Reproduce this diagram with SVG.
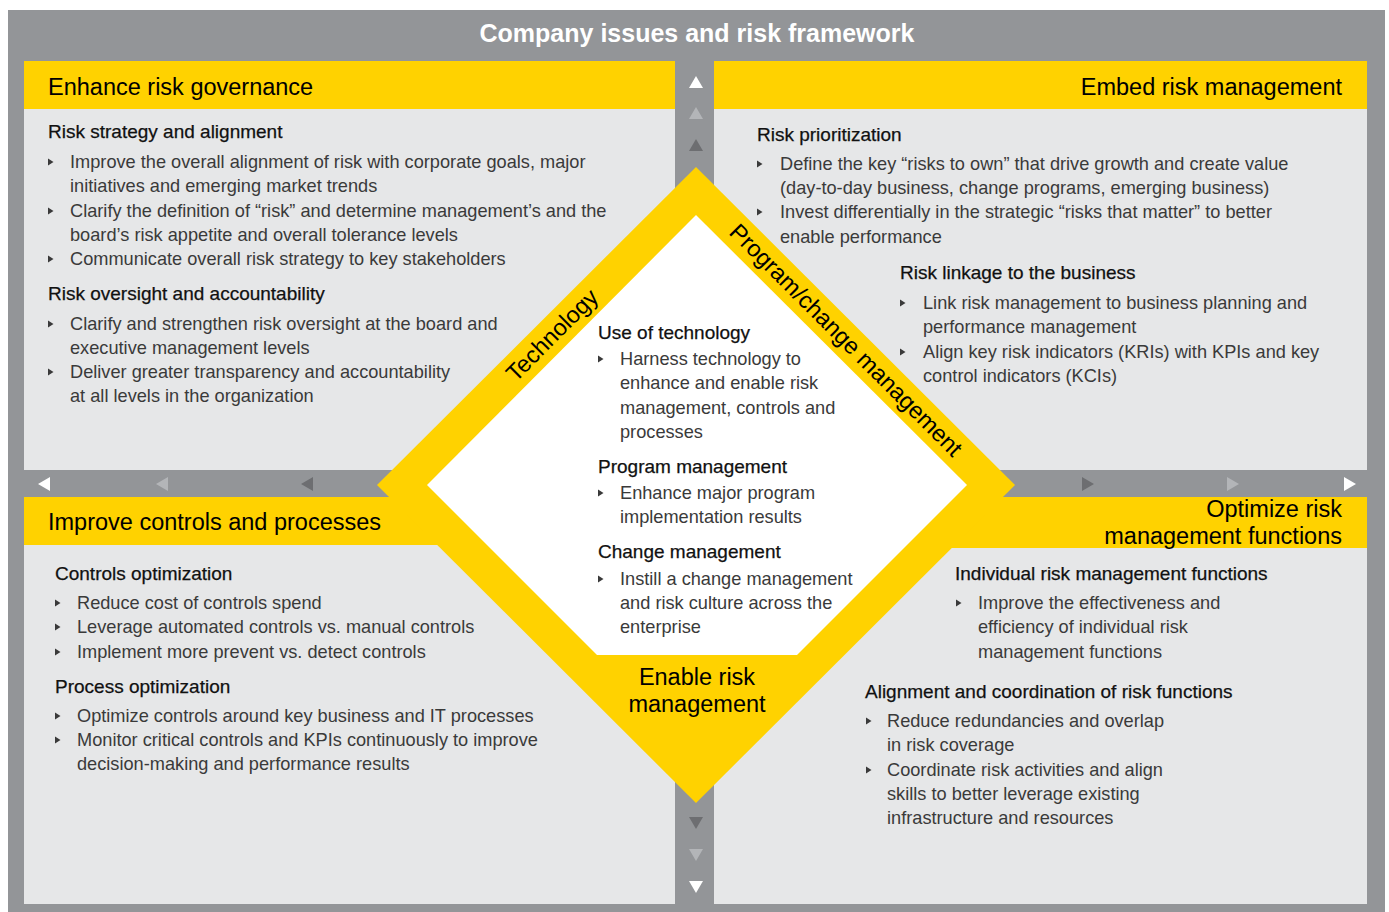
<svg xmlns="http://www.w3.org/2000/svg" xmlns:xlink="http://www.w3.org/1999/xlink" width="1389" height="912" viewBox="0 0 1389 912">
<style>
.bg{fill:#939598}
.q{fill:#e6e7e8}
.y{fill:#ffd200}
.hd{font-family:"Liberation Sans",Arial,sans-serif;font-size:23.5px;fill:#000}
.sh{font-family:"Liberation Sans",Arial,sans-serif;font-size:19px;fill:#111;stroke:#111;stroke-width:0.25px}
.bd{font-family:"Liberation Sans",Arial,sans-serif;font-size:18.2px;fill:#3a3a3a}
.ttl{font-family:"Liberation Sans",Arial,sans-serif;font-size:25px;font-weight:bold;fill:#fff}
.tw{fill:#fff}.tl{fill:#b3b5b8}.td{fill:#6d6e71}
</style>
<defs>
<path id="bl" d="M0,-3.5L5.5,0L0,3.5Z" fill="#3a3a3a"/>
<path id="up" d="M-7,6L0,-6L7,6Z"/>
<path id="dn" d="M-7,-6L0,6L7,-6Z"/>
<path id="lf" d="M6,-7L-6,0L6,7Z"/>
<path id="rt" d="M-6,-7L6,0L-6,7Z"/>
</defs>
<rect class="bg" x="8" y="10" width="1377" height="902"/>
<text class="ttl" x="697" y="42" text-anchor="middle">Company issues and risk framework</text>

<g id="q-governance">
<rect class="q" x="24" y="61" width="651" height="409"/>
<rect class="y" x="24" y="61" width="651" height="48"/>
<text class="hd" x="48" y="95">Enhance risk governance</text>
<text class="sh" x="48" y="138">Risk strategy and alignment</text>
<use href="#bl" x="48" y="162"/><use href="#bl" x="48" y="211"/><use href="#bl" x="48" y="259"/>
<text class="bd"><tspan x="70" y="168">Improve the overall alignment of risk with corporate goals, major</tspan><tspan x="70" y="192">initiatives and emerging market trends</tspan><tspan x="70" y="217">Clarify the definition of “risk” and determine management’s and the</tspan><tspan x="70" y="241">board’s risk appetite and overall tolerance levels</tspan><tspan x="70" y="265">Communicate overall risk strategy to key stakeholders</tspan></text>
<text class="sh" x="48" y="300">Risk oversight and accountability</text>
<use href="#bl" x="48" y="324"/><use href="#bl" x="48" y="372"/>
<text class="bd"><tspan x="70" y="330">Clarify and strengthen risk oversight at the board and</tspan><tspan x="70" y="354">executive management levels</tspan><tspan x="70" y="378">Deliver greater transparency and accountability</tspan><tspan x="70" y="402">at all levels in the organization</tspan></text>
</g>

<g id="q-embed">
<rect class="q" x="714" y="61" width="653" height="409"/>
<rect class="y" x="714" y="61" width="653" height="48"/>
<text class="hd" x="1342" y="95" text-anchor="end">Embed risk management</text>
<text class="sh" x="757" y="141">Risk prioritization</text>
<use href="#bl" x="757" y="164"/><use href="#bl" x="757" y="212"/>
<text class="bd"><tspan x="780" y="170">Define the key “risks to own” that drive growth and create value</tspan><tspan x="780" y="194">(day-to-day business, change programs, emerging business)</tspan><tspan x="780" y="218">Invest differentially in the strategic “risks that matter” to better</tspan><tspan x="780" y="243">enable performance</tspan></text>
<text class="sh" x="900" y="279">Risk linkage to the business</text>
<use href="#bl" x="900" y="303"/><use href="#bl" x="900" y="352"/>
<text class="bd"><tspan x="923" y="309">Link risk management to business planning and</tspan><tspan x="923" y="333">performance management</tspan><tspan x="923" y="358">Align key risk indicators (KRIs) with KPIs and key</tspan><tspan x="923" y="382">control indicators (KCIs)</tspan></text>
</g>

<g id="q-controls">
<rect class="q" x="24" y="497" width="651" height="407"/>
<rect class="y" x="24" y="497" width="651" height="48"/>
<text class="hd" x="48" y="530">Improve controls and processes</text>
<text class="sh" x="55" y="580">Controls optimization</text>
<use href="#bl" x="55" y="603"/><use href="#bl" x="55" y="627"/><use href="#bl" x="55" y="652"/>
<text class="bd"><tspan x="77" y="609">Reduce cost of controls spend</tspan><tspan x="77" y="633">Leverage automated controls vs. manual controls</tspan><tspan x="77" y="658">Implement more prevent vs. detect controls</tspan></text>
<text class="sh" x="55" y="693">Process optimization</text>
<use href="#bl" x="55" y="716"/><use href="#bl" x="55" y="740"/>
<text class="bd"><tspan x="77" y="722">Optimize controls around key business and IT processes</tspan><tspan x="77" y="746">Monitor critical controls and KPIs continuously to improve</tspan><tspan x="77" y="770">decision-making and performance results</tspan></text>
</g>

<g id="q-optimize">
<rect class="q" x="714" y="497" width="653" height="407"/>
<rect class="y" x="714" y="497" width="653" height="51"/>
<text class="hd"><tspan x="1342" y="517" text-anchor="end">Optimize risk</tspan><tspan x="1342" y="544" text-anchor="end">management functions</tspan></text>
<text class="sh" x="955" y="580">Individual risk management functions</text>
<use href="#bl" x="956" y="603"/>
<text class="bd"><tspan x="978" y="609">Improve the effectiveness and</tspan><tspan x="978" y="633">efficiency of individual risk</tspan><tspan x="978" y="658">management functions</tspan></text>
<text class="sh" x="865" y="698">Alignment and coordination of risk functions</text>
<use href="#bl" x="866" y="721"/><use href="#bl" x="866" y="770"/>
<text class="bd"><tspan x="887" y="727">Reduce redundancies and overlap</tspan><tspan x="887" y="751">in risk coverage</tspan><tspan x="887" y="776">Coordinate risk activities and align</tspan><tspan x="887" y="800">skills to better leverage existing</tspan><tspan x="887" y="824">infrastructure and resources</tspan></text>
</g>

<g id="connectors">
<use href="#up" class="tw" x="696" y="82"/>
<use href="#up" class="tl" x="696" y="113"/>
<use href="#up" class="td" x="696" y="145"/>
<use href="#dn" class="td" x="696" y="823"/>
<use href="#dn" class="tl" x="696" y="855"/>
<use href="#dn" class="tw" x="696" y="887"/>
<use href="#lf" class="tw" x="44" y="484"/>
<use href="#lf" class="tl" x="162" y="484"/>
<use href="#lf" class="td" x="307" y="484"/>
<use href="#rt" class="td" x="1088" y="484"/>
<use href="#rt" class="tl" x="1233" y="484"/>
<use href="#rt" class="tw" x="1350" y="484"/>
</g>

<g id="diamond">
<polygon class="y" points="696,167 1015,485 696,803 377,485"/>
<polygon fill="#fff" points="696,215 967,485 797,655 597,655 427,485"/>
<text class="hd" transform="translate(552,335) rotate(-45)" x="0" y="8" text-anchor="middle">Technology</text>
<text class="hd" transform="translate(846,340) rotate(45)" x="0" y="8" text-anchor="middle">Program/change management</text>
<text class="sh" x="598" y="339">Use of technology</text>
<use href="#bl" x="598" y="359"/>
<text class="bd"><tspan x="620" y="365">Harness technology to</tspan><tspan x="620" y="389">enhance and enable risk</tspan><tspan x="620" y="414">management, controls and</tspan><tspan x="620" y="438">processes</tspan></text>
<text class="sh" x="598" y="473">Program management</text>
<use href="#bl" x="598" y="493"/>
<text class="bd"><tspan x="620" y="499">Enhance major program</tspan><tspan x="620" y="523">implementation results</tspan></text>
<text class="sh" x="598" y="558">Change management</text>
<use href="#bl" x="598" y="579"/>
<text class="bd"><tspan x="620" y="585">Instill a change management</tspan><tspan x="620" y="609">and risk culture across the</tspan><tspan x="620" y="633">enterprise</tspan></text>
<text class="hd" text-anchor="middle"><tspan x="697" y="685">Enable risk</tspan><tspan x="697" y="712">management</tspan></text>
</g>
</svg>
